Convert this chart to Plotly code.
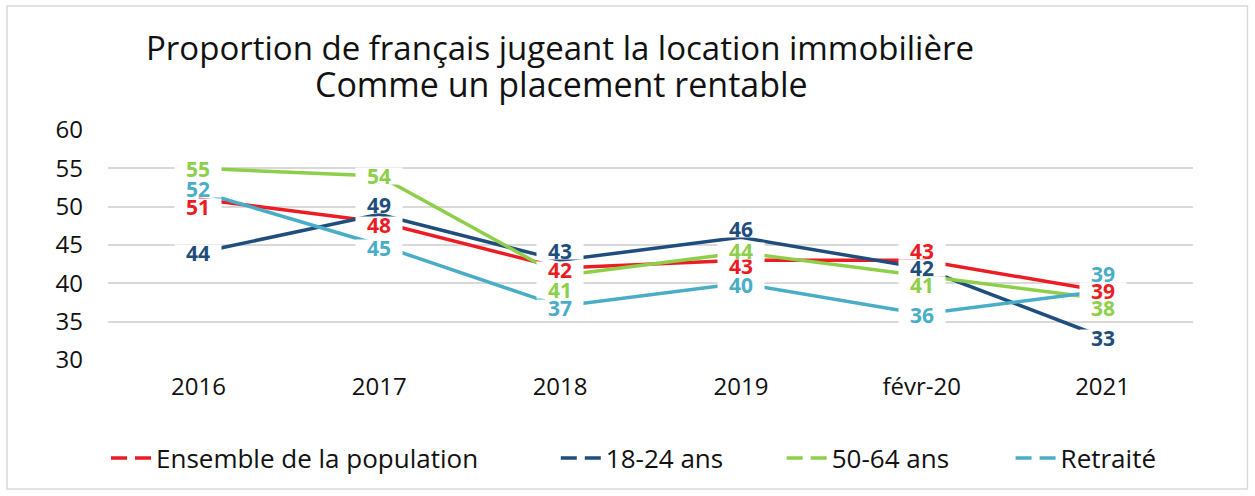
import plotly.graph_objects as go

categories = ["2016", "2017", "2018", "2019", "févr-20", "2021"]
series_names = ["Ensemble de la population", "18-24 ans", "50-64 ans", "Retraité"]
ensemble = [51, 48, 42, 43, 43, 39]
jeunes = [44, 49, 43, 46, 42, 33]
seniors = [55, 54, 41, 44, 41, 38]
retraites = [52, 45, 37, 40, 36, 39]

# vertical nudges of the data labels (pixels, positive = up)
label_shift_ensemble = [-8, -3, -2, -6, 9, 0]
label_shift_jeunes = [0, 9, 9, 8, 0, -1]
label_shift_seniors = [-1, 0, -14, 2, -9, -9]
label_shift_retraites = [2, -3, -2, -2, -1, 17]

colors = ["#EC1C24", "#1F4E7D", "#8DCF4A", "#4AADC8"]
values = [ensemble, jeunes, seniors, retraites]
shifts = [label_shift_ensemble, label_shift_jeunes, label_shift_seniors, label_shift_retraites]

FONT = "Open Sans"
PLOT_L, PLOT_W = 108, 1085.5
PLOT_B, PLOT_H = 360, 230


def px_x(p):
    return (p - PLOT_L) / PLOT_W


def px_y(p):
    return (PLOT_B - p) / PLOT_H


fig = go.Figure()
for name, vals, col in zip(series_names, values, colors):
    fig.add_trace(go.Scatter(x=categories, y=vals, mode="lines", name=name,
                             line=dict(color=col, width=3.5), showlegend=False,
                             hoverinfo="skip"))

legend_names = ["legend", "legend2", "legend3", "legend4"]
legend_x_px = [106, 556, 782, 1011]
for name, col, lg in zip(series_names, colors, legend_names):
    fig.add_trace(go.Scatter(x=[None], y=[None], mode="lines", name=name,
                             line=dict(color=col, width=3.5, dash="16px,8px"),
                             showlegend=True, legend=lg))

annotations = []
for vals, col, sh in zip(values, colors, shifts):
    for i, (v, s) in enumerate(zip(vals, sh)):
        annotations.append(dict(x=i, y=v, xref="x", yref="y", text=str(v),
                                showarrow=False, yshift=s, bgcolor="white",
                                width=46, height=16, borderpad=0,
                                font=dict(family=FONT, size=21, color=col, weight="bold")))

annotations.append(dict(x=px_x(560), y=px_y(47), xref="paper", yref="paper",
                        text="Proportion de français jugeant la location immobilière",
                        showarrow=False, xanchor="center", yanchor="middle",
                        font=dict(family=FONT, size=33, color="#111111")))
annotations.append(dict(x=px_x(562), y=px_y(84), xref="paper", yref="paper",
                        text="Comme un placement rentable",
                        showarrow=False, xanchor="center", yanchor="middle",
                        font=dict(family=FONT, size=34, color="#111111")))

legend_common = dict(orientation="h", yanchor="middle", xanchor="left",
                     font=dict(family=FONT, size=26, color="#111111"),
                     bgcolor="rgba(0,0,0,0)", itemwidth=40)
layout_legends = {}
for lg, xp in zip(legend_names, legend_x_px):
    layout_legends[lg] = dict(legend_common, x=px_x(xp), y=px_y(458))

fig.update_layout(
    width=1255, height=496,
    margin=dict(l=PLOT_L, r=1255 - PLOT_L - PLOT_W, t=130, b=496 - PLOT_B, autoexpand=False),
    paper_bgcolor="white", plot_bgcolor="white",
    font=dict(family=FONT, size=24, color="#111111"),
    annotations=annotations,
    showlegend=True,
    hovermode=False,
    shapes=[dict(type="rect", xref="paper", yref="paper",
                 x0=px_x(7), x1=px_x(1248), y0=px_y(489), y1=px_y(6),
                 line=dict(color="#D9D9D9", width=1.5), fillcolor="rgba(0,0,0,0)",
                 layer="below")],
    **layout_legends,
)
fig.update_xaxes(type="category", range=[-0.5, 5.5], showgrid=False, showline=False,
                 zeroline=False, ticks="", ticklabelstandoff=10,
                 tickfont=dict(family=FONT, size=24, color="#111111"))
fig.update_yaxes(range=[30, 60], dtick=5, tick0=30, showgrid=True, gridcolor="#D9D9D9",
                 gridwidth=2, zeroline=False, showline=False, ticks="",
                 ticklabelstandoff=24,
                 tickfont=dict(family=FONT, size=24, color="#111111"))

fig.write_html("out.html", config={"displayModeBar": False},
               post_script="document.body.style.margin='0px';document.body.style.overflow='hidden';")
